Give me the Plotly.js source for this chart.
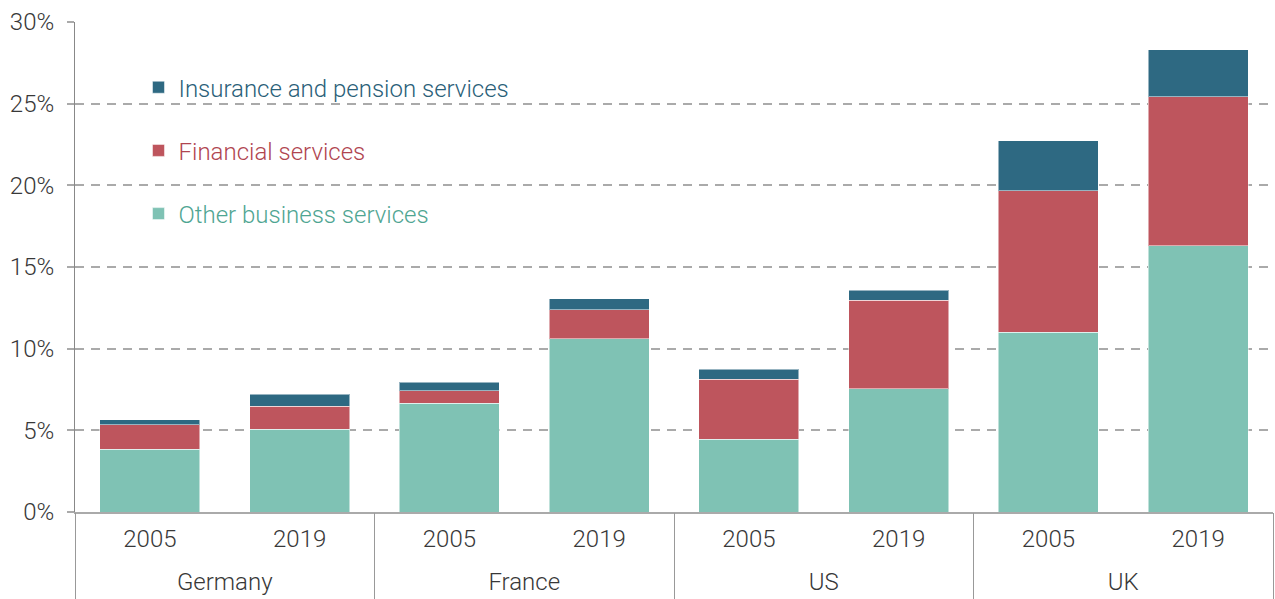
<!DOCTYPE html>
<html>
<head>
<meta charset="utf-8">
<script src="https://cdn.plot.ly/plotly-3.0.1.min.js"></script>
<style>html,body{margin:0;padding:0;background:#fff;}#chart{width:1275px;height:599px;}</style>
</head>
<body>
<div id="chart"></div>
<script>
var countries = ['Germany','Germany','France','France','US','US','UK','UK'];
var years = ['2005','2019','2005','2019','2005','2019','2005','2019'];
var otherBusiness = [3.83, 5.08, 6.67, 10.61, 4.45, 7.55, 11.02, 16.31];
var financial = [1.52, 1.39, 0.76, 1.76, 3.69, 5.41, 8.64, 9.10];
var insurance = [0.31, 0.73, 0.51, 0.69, 0.59, 0.63, 3.08, 2.90];
var seriesNames = ['Other business services', 'Financial services', 'Insurance and pension services'];
var barColors = ['#7fc2b4', '#be555d', '#2e6982'];
var textColors = ['#4fa592', '#b04550', '#2a6078'];

// unique category keys built from the data
var keys = countries.map(function(c, i){ return c + ' ' + years[i]; });
// group positions for country labels and dividers (category index space)
var groupNames = [], groupCenters = [], groupEdges = [-0.5];
countries.forEach(function(c){
  if (groupNames.indexOf(c) < 0) groupNames.push(c);
});
groupNames.forEach(function(g){
  var idx = [];
  countries.forEach(function(c, i){ if (c === g) idx.push(i); });
  groupCenters.push((idx[0] + idx[idx.length - 1]) / 2);
  groupEdges.push(idx[idx.length - 1] + 0.5);
});

var seriesValues = [otherBusiness, financial, insurance];
var traces = seriesValues.map(function(vals, i){
  return {
    type: 'bar',
    x: keys,
    y: vals,
    name: '<span style="color:' + textColors[i] + '">' + seriesNames[i] + '</span>',
    legendgroup: 'g' + i,
    legendrank: 3 - i,
    marker: {color: barColors[i], line: {color: 'rgba(255,255,255,0.5)', width: 1}},
    hoverinfo: 'y'
  };
});
// invisible helper trace so the country-level axis is drawn
traces.push({
  type: 'scatter', mode: 'none', x: groupCenters, y: groupCenters.map(function(){ return 0; }),
  xaxis: 'x2', yaxis: 'y', showlegend: false, hoverinfo: 'skip'
});

var baseFont = {family: 'Roboto, sans-serif', size: 24, color: '#383838', weight: 300};

var layout = {
  width: 1275, height: 599,
  margin: {l: 75, r: 2, t: 22, b: 87},
  barmode: 'stack',
  bargap: 0.333,
  paper_bgcolor: '#fff', plot_bgcolor: '#fff',
  font: baseFont,
  showlegend: true,
  legend: {
    x: 0.053, y: 0.912, xanchor: 'left', yanchor: 'top',
    traceorder: 'grouped', tracegroupgap: 29,
    font: {family: 'Roboto, sans-serif', size: 24, weight: 300}, bgcolor: 'rgba(0,0,0,0)',
    itemwidth: 30
  },
  xaxis: {
    type: 'category',
    range: [-0.5, keys.length - 0.5],
    tickmode: 'array', tickvals: keys, ticktext: years,
    showline: true, linecolor: '#aaa', linewidth: 2,
    ticks: '', showgrid: false,
    ticklabelstandoff: 4,
    tickfont: baseFont
  },
  xaxis2: {
    type: 'linear', overlaying: 'x', anchor: 'y', side: 'bottom',
    range: [-0.5, keys.length - 0.5],
    tickmode: 'array', tickvals: groupCenters, ticktext: groupNames,
    ticks: '', showgrid: false, zeroline: false, showline: false,
    ticklabelstandoff: 53,
    minor: {tickmode: 'array', tickvals: groupEdges, ticks: 'outside', ticklen: 90, tickcolor: '#999', tickwidth: 1, showgrid: false},
    tickfont: baseFont
  },
  yaxis: {
    range: [0, 30], dtick: 5, ticksuffix: '%',
    showgrid: true, gridcolor: '#aaa', gridwidth: 2, griddash: '9px,7px',
    zeroline: false,
    showline: true, linecolor: '#888', linewidth: 1,
    ticks: 'outside', ticklen: 7, tickcolor: '#aaa', tickwidth: 2,
    ticklabelstandoff: 8,
    tickfont: baseFont
  }
};

Plotly.newPlot('chart', traces, layout, {displayModeBar: false, staticPlot: true});
</script>
</body>
</html>
